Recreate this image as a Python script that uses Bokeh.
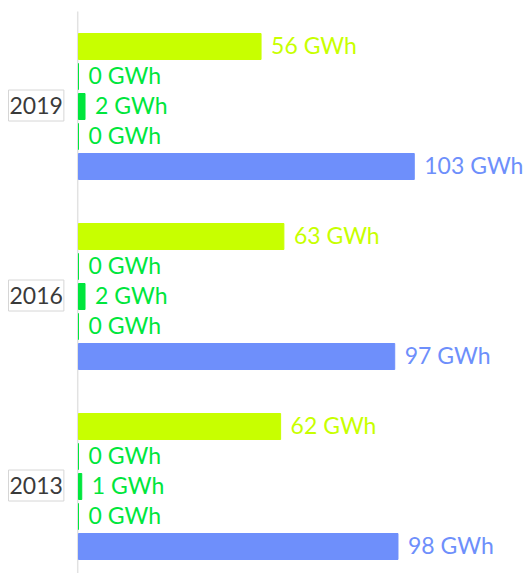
from bokeh.plotting import figure
from bokeh.models import ColumnDataSource, Range1d, Label
from bokeh.core.properties import value
from bokeh.embed import file_html
from bokeh.resources import INLINE

years = ["2019", "2016", "2013"]
series_a = [56, 63, 62]      # yellow-green
series_b = [0, 0, 0]         # green
series_c = [2, 2, 1]         # green
series_d = [0, 0, 0]         # green
series_e = [103, 97, 98]     # blue
unit = "GWh"

series = [series_a, series_b, series_c, series_d, series_e]
colors = ["#c8ff00", "#00e63c", "#00e63c", "#00e63c", "#6e8ffb"]

W, H = 525, 573
ROW_PX = 30.0
GROUP_PX = 190.0
TOP_PX = 46.0          # centre of first row from figure top
ZERO_PX = 78.0         # x of value 0 from figure left
PX_PER_UNIT = 3.26
AXIS_TOP_PX = 11.0

group_step = GROUP_PX / ROW_PX

ys, xs, cols, texts = [], [], [], []
for g, yr in enumerate(years):
    for k, s in enumerate(series):
        ys.append(g * group_step + k)
        xs.append(s[g])
        cols.append(colors[k])
        texts.append(f"{s[g]} {unit}")

src = ColumnDataSource(dict(y=ys, x=xs, color=cols, text=texts))

x_start = -ZERO_PX / PX_PER_UNIT
x_end = (W - ZERO_PX) / PX_PER_UNIT
y_top = -TOP_PX / ROW_PX
y_bottom = (H - TOP_PX) / ROW_PX

p = figure(width=W, height=H, output_backend="svg", toolbar_location=None,
           x_range=Range1d(x_start, x_end), y_range=Range1d(y_bottom, y_top),
           min_border=0, outline_line_color=None)
p.xaxis.visible = False
p.yaxis.visible = False
p.xgrid.visible = False
p.ygrid.visible = False

axis_x = -0.8 / PX_PER_UNIT
p.segment(x0=[axis_x], x1=[axis_x], y0=[(AXIS_TOP_PX - TOP_PX) / ROW_PX], y1=[y_bottom],
          line_color="#e2e2e2", line_width=1.5)

p.hbar(y="y", left=0, right="x", height=26 / ROW_PX, source=src,
       fill_color="color", line_color="color", line_width=1)

p.text(x="x", y="y", text="text", source=src, x_offset=10, y_offset=-2,
       text_color="color", text_font=value("Lato"), text_font_size="23px",
       text_baseline="middle", text_align="left")

for g, yr in enumerate(years):
    p.add_layout(Label(x=8, x_units="screen", y=g * group_step + 2, y_offset=1, text=yr,
                       text_font="Lato", text_font_size="23px", text_color="#3a3a3a",
                       text_baseline="middle", text_align="left",
                       background_fill_color="white", border_line_color="#d6d6d6",
                       border_line_width=1,
                       padding=dict(left=1, right=1, top=7, bottom=7)))

open("out.html", "w").write(file_html(p, INLINE))
